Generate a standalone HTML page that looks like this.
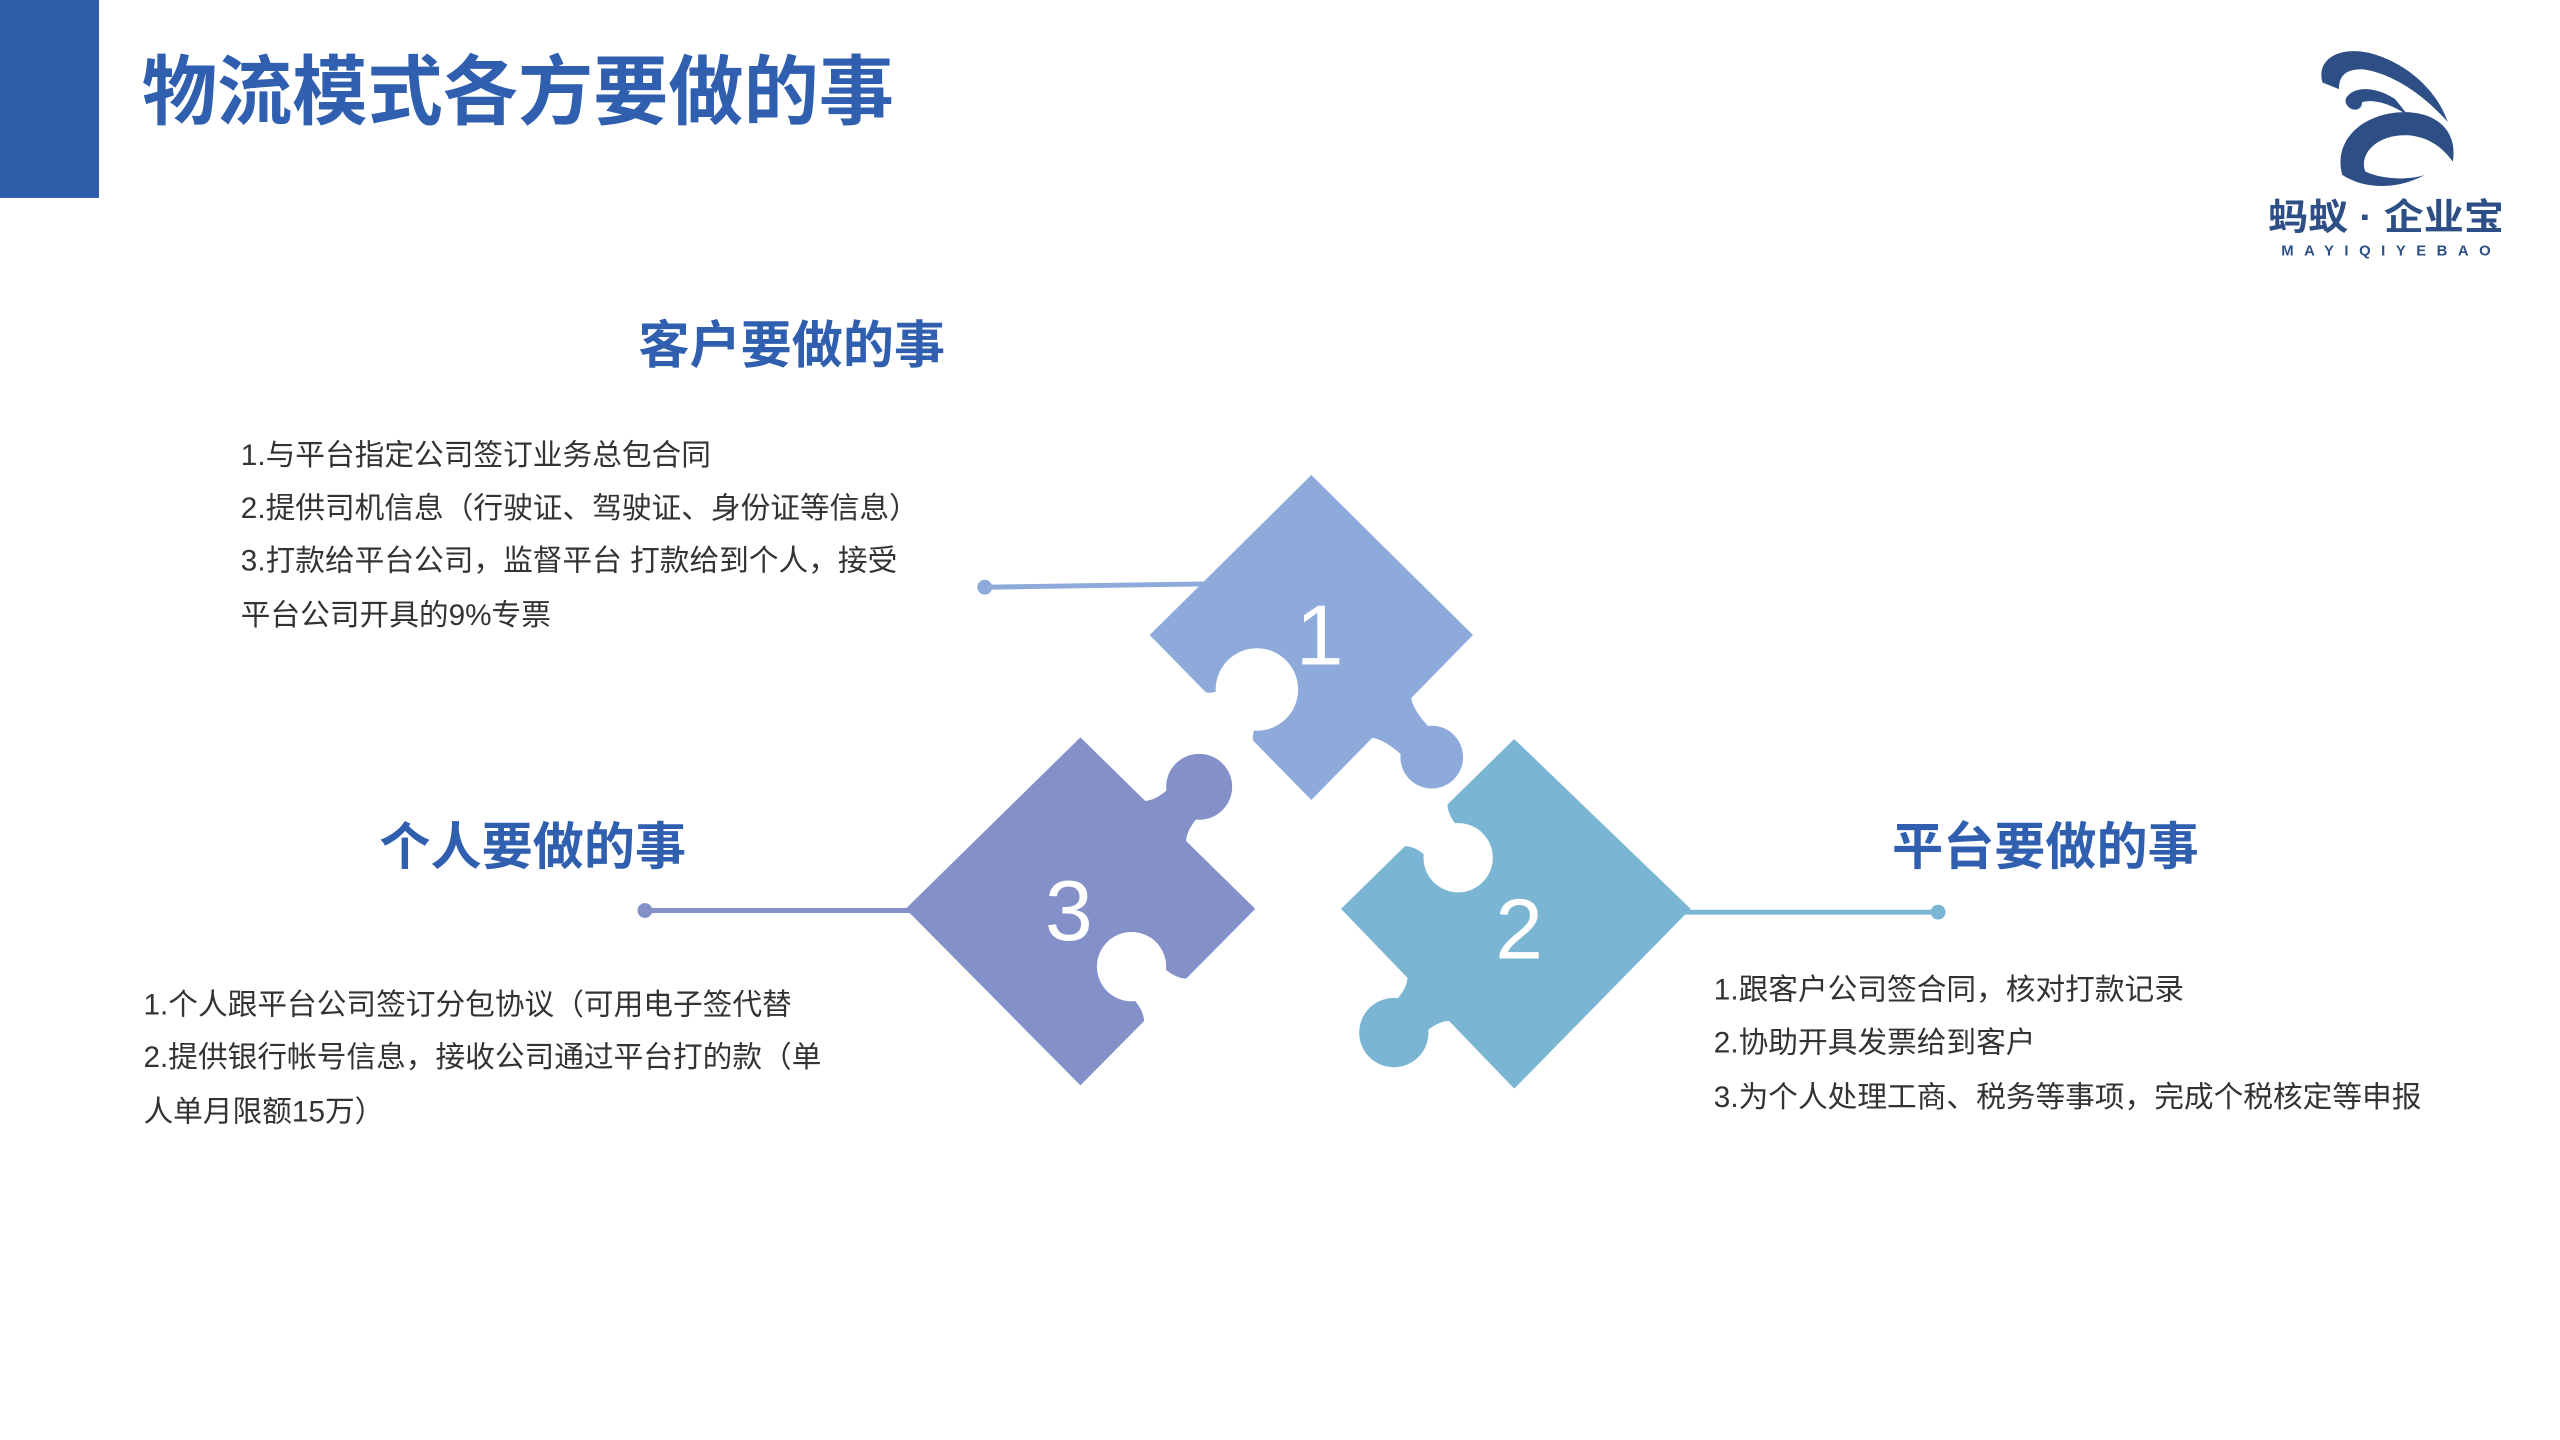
<!DOCTYPE html>
<html><head><meta charset="utf-8"><style>
html,body{margin:0;padding:0;background:#fff;width:2560px;height:1440px;overflow:hidden}
svg{display:block}
text{font-family:"Liberation Sans","Noto Sans CJK SC",sans-serif}
</style></head><body>
<svg id="s" width="2560" height="1440" viewBox="0 0 1552 873" preserveAspectRatio="none" xmlns="http://www.w3.org/2000/svg">
<rect x="0" y="0" width="60" height="120" fill="#2e5ca8"/>
<text x="86" y="72" font-size="46" font-weight="bold" fill="#2f5fae" textLength="456" lengthAdjust="spacingAndGlyphs">物流模式各方要做的事</text>

<!-- logo -->
<g fill="#2d4f86">
<path d="M1408 50 C1404 36 1418 28 1436 32 C1460 38 1478 56 1484 74 C1470 58 1450 44 1432 42 C1422 42 1418 46 1418 54 Z"/>
<path d="M1422 60 C1426 52 1440 52 1452 60 L1460 70 C1448 62 1438 60 1432 62 C1432 68 1424 68 1422 62 Z"/>
<path d="M1420 106 C1414 84 1434 68 1458 68 C1478 68 1490 80 1487 98 C1480 88 1470 82 1458 82 C1440 82 1430 94 1434 104 C1442 108 1458 110 1470 106 C1452 116 1432 114 1420 106 Z"/>
</g>
<text x="1375" y="139" font-size="22" font-weight="bold" fill="#2d4f86" textLength="143" lengthAdjust="spacingAndGlyphs">蚂蚁 · 企业宝</text>
<text x="1383" y="155" font-size="9" font-weight="bold" fill="#2d4f86" textLength="127" lengthAdjust="spacing">MAYIQIYEBAO</text>

<text x="480" y="220" font-size="31" font-weight="bold" fill="#2f5fae" text-anchor="middle">客户要做的事</text>
<text x="323" y="524" font-size="31" font-weight="bold" fill="#2f5fae" text-anchor="middle">个人要做的事</text>
<text x="1240" y="524" font-size="31" font-weight="bold" fill="#2f5fae" text-anchor="middle">平台要做的事</text>

<g font-size="18" fill="#333">
<text x="146" y="282">1.与平台指定公司签订业务总包合同</text>
<text x="146" y="314">2.提供司机信息（行驶证、驾驶证、身份证等信息）</text>
<text x="146" y="346">3.打款给平台公司，监督平台 打款给到个人，接受</text>
<text x="146" y="379">平台公司开具的9%专票</text>
<text x="87" y="615">1.个人跟平台公司签订分包协议（可用电子签代替</text>
<text x="87" y="647">2.提供银行帐号信息，接收公司通过平台打的款（单</text>
<text x="87" y="680">人单月限额15万）</text>
<text x="1039" y="606">1.跟客户公司签合同，核对打款记录</text>
<text x="1039" y="638">2.协助开具发票给到客户</text>
<text x="1039" y="671">3.为个人处理工商、税务等事项，完成个税核定等申报</text>
</g>

<line x1="597" y1="356" x2="730" y2="354" stroke="#8eaadb" stroke-width="3"/>
<circle cx="597" cy="356" r="4.5" fill="#8eaadb"/>
<line x1="391" y1="552" x2="552" y2="552" stroke="#8490c8" stroke-width="3"/>
<circle cx="391" cy="552" r="4.5" fill="#8490c8"/>
<line x1="1022" y1="553" x2="1175" y2="553" stroke="#7ab5d4" stroke-width="3"/>
<circle cx="1175" cy="553" r="4.5" fill="#7ab5d4"/>

<polygon points="795,288 893,385 795,485 697,385" fill="#8eaadb"/>
<polygon points="655,447 761,551 655,658 549,551" fill="#8490c8"/>
<polygon points="918,448 1025,551 918,660 813,551" fill="#7ab5d4"/>

<g id="notches" fill="#fff"></g>
<g id="knobs"></g>

<g font-size="52" fill="#fff" text-anchor="middle">
<text x="800" y="403">1</text>
<text x="648" y="570">3</text>
<text x="921" y="581">2</text>
</g>
</svg>
<script>
(function(){
var NS="http://www.w3.org/2000/svg";
function shape(cx,cy,r,ax,ay,bx,by,color,knob,parent){
  // edge direction
  var ux=bx-ax,uy=by-ay,L=Math.hypot(ux,uy);ux/=L;uy/=L;
  var nx=-uy,ny=ux;
  // distance from center to edge line (signed)
  var d=(cx-ax)*nx+(cy-ay)*ny;
  if(d<0){nx=-nx;ny=-ny;d=-d;}
  // for knob: n points from edge to center (outward from piece). For notch: center inside; n points to center (inward) -> we want toward edge: base on edge
  var Bx=cx-nx*d, By=cy-ny*d;
  var ext=knob?-4:4; // push base beyond edge
  var Bex=Bx-nx*ext*(knob?1:-1)*(knob?1:1), Bey=By-ny*ext*(knob?1:-1);
  // base point slightly past the edge (inside piece for knob, outside for notch)
  Bex=Bx-nx*4; Bey=By-ny*4;
  var w0=r*1.15, w1=r*0.62;
  var hd=d-r*0.55; // neck point distance from edge
  function P(a,b){return (Bx+ux*a+nx*b).toFixed(1)+" "+(By+uy*a+ny*b).toFixed(1);}
  var p="M"+P(w0,-4)+" Q"+P(w1,0)+" "+P(w1,hd)+" L"+P(-w1,hd)+" Q"+P(-w1,0)+" "+P(-w0,-4)+" Z";
  var path=document.createElementNS(NS,"path");path.setAttribute("d",p);path.setAttribute("fill",color);parent.appendChild(path);
  var c=document.createElementNS(NS,"circle");c.setAttribute("cx",cx);c.setAttribute("cy",cy);c.setAttribute("r",r);c.setAttribute("fill",color);parent.appendChild(c);
}
var N=document.getElementById("notches"),K=document.getElementById("knobs");
// notches (white): base on edge from outside
shape(762,418,25,697,385,795,485,"#fff",false,N);
shape(686,586,21,761,551,655,658,"#fff",false,N);
shape(884,520,21,918,448,813,551,"#fff",false,N);
// knobs
shape(868,459,19,893,385,795,485,"#8eaadb",true,K);
shape(727,477,20,655,447,761,551,"#8490c8",true,K);
shape(845,626,21,813,551,918,660,"#7ab5d4",true,K);
})();
</script>
</body></html>
